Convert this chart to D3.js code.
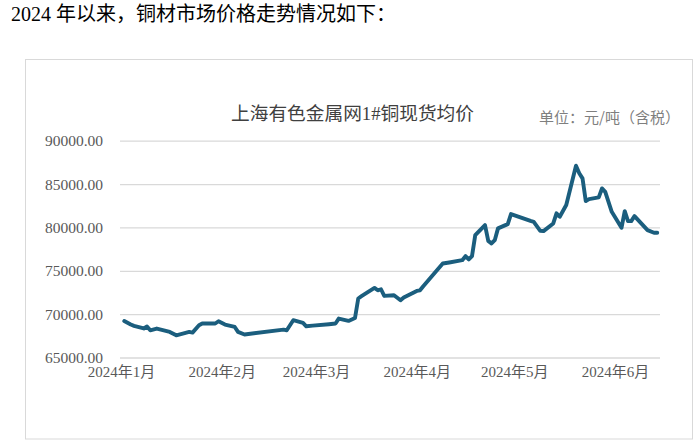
<!DOCTYPE html>
<html><head><meta charset="utf-8">
<script src="https://cdn.jsdelivr.net/npm/d3@7"></script>
<style>
html,body{margin:0;padding:0;background:#fff;}
svg{display:block;}
</style></head>
<body>
<svg id="c" width="700" height="442"></svg>
<script>
const headerText = "2024 年以来，铜材市场价格走势情况如下：";
const chartTitle = "上海有色金属网1#铜现货均价";
const unitText = "单位：元/吨（含税）";
const yTicks = [65000, 70000, 75000, 80000, 85000, 90000];
const xTickDates = ["2024-01-01","2024-02-01","2024-03-01","2024-04-01","2024-05-01","2024-06-01"];
const dates = [
"2024-01-02","2024-01-04","2024-01-05","2024-01-08","2024-01-09","2024-01-10","2024-01-12","2024-01-16","2024-01-18","2024-01-22",
"2024-01-23","2024-01-25","2024-01-26","2024-01-30","2024-01-31","2024-02-02","2024-02-05","2024-02-06","2024-02-08","2024-02-20",
"2024-02-21","2024-02-22","2024-02-23","2024-02-26","2024-02-27","2024-02-29","2024-03-05","2024-03-07","2024-03-08","2024-03-11",
"2024-03-13","2024-03-14","2024-03-15","2024-03-19","2024-03-20","2024-03-21","2024-03-22","2024-03-25","2024-03-27","2024-03-28",
"2024-04-01","2024-04-02","2024-04-03","2024-04-09","2024-04-11","2024-04-15","2024-04-16","2024-04-17","2024-04-18","2024-04-19",
"2024-04-22","2024-04-23","2024-04-24","2024-04-25","2024-04-26","2024-04-29","2024-04-30","2024-05-06","2024-05-07","2024-05-09",
"2024-05-10","2024-05-13","2024-05-14","2024-05-15","2024-05-17","2024-05-20","2024-05-21","2024-05-22","2024-05-23","2024-05-24",
"2024-05-27","2024-05-28","2024-05-29","2024-05-31","2024-06-03","2024-06-04","2024-06-05","2024-06-06","2024-06-07","2024-06-11",
"2024-06-13","2024-06-14"];
const prices = [
69200,68800,68650,68350,68570,68140,68340,67950,67560,67950,
67870,68720,68920,68920,69180,68800,68520,67950,67650,68220,
68140,68720,69300,68990,68600,68680,68840,68920,69490,69220,
69560,71800,72070,73030,72750,72870,72100,72180,71600,71920,
72680,72750,73220,75840,75960,76220,76690,76310,76690,79110,
80270,78450,78150,78530,79890,80380,81540,80760,80650,79610,
79570,80460,81620,81230,82580,87110,86240,85660,83040,83270,
83460,84500,84110,81800,79960,81880,80730,80730,81310,79690,
79380,79380];

const parse = d3.timeParse("%Y-%m-%d");
const data = dates.map((d,i)=>({date:parse(d), value:prices[i]}));

const svg = d3.select("#c");
const gridLeft = 120, gridRight = 660;
const x = d3.scaleTime().domain([parse("2024-01-01"), parse("2024-06-01")]).range([121, 615]);
const y = d3.scaleLinear().domain([65000, 90000]).range([357.5, 140.7]);

svg.append("text").attr("x", 11).attr("y", 21)
  .attr("font-family", "'Liberation Serif','Noto Sans CJK SC',serif")
  .attr("font-size", 20).attr("fill", "#000").text(headerText);

svg.append("rect").attr("x", 25.5).attr("y", 59.5).attr("width", 667).attr("height", 379.5)
  .attr("fill", "#fff").attr("stroke", "#d9d9d9").attr("stroke-width", 1);

svg.append("text").attr("x", 352.5).attr("y", 120).attr("text-anchor", "middle")
  .attr("font-family", "'Liberation Serif','Noto Sans CJK SC',serif")
  .attr("font-size", 18.7).attr("fill", "#404040").text(chartTitle);

svg.append("text").attr("x", 680).attr("y", 123).attr("text-anchor", "end")
  .attr("font-family", "'Noto Sans CJK SC',sans-serif")
  .attr("font-size", 15).attr("fill", "#7f7f7f").text(unitText);

const yAxis = d3.axisLeft(y).tickValues(yTicks).tickSize(-(gridRight - gridLeft)).tickPadding(17)
  .tickFormat(d => d3.format(".2f")(d));
const gy = svg.append("g").attr("transform", `translate(${gridLeft},0)`).call(yAxis);
gy.select(".domain").remove();
gy.selectAll(".tick line").attr("stroke", "#d9d9d9").attr("stroke-width", 1.3);
gy.selectAll(".tick text").attr("font-family", "'Liberation Serif',serif")
  .attr("font-size", 15.5).attr("fill", "#595959");

const xAxis = d3.axisBottom(x).tickValues(xTickDates.map(parse)).tickSize(0).tickPadding(9)
  .tickFormat(d => d.getFullYear() + "年" + (d.getMonth()+1) + "月");
const gx = svg.append("g").attr("transform", `translate(0,${y(65000)})`).call(xAxis);
gx.select(".domain").remove();
gx.selectAll(".tick text").attr("font-family", "'Liberation Serif','Noto Sans CJK SC',serif")
  .attr("font-size", 15).attr("fill", "#595959");

const line = d3.line().x(d => x(d.date)).y(d => y(d.value));
svg.append("path").datum(data).attr("d", line).attr("fill", "none")
  .attr("stroke", "#1b5e7e").attr("stroke-width", 3.9)
  .attr("stroke-linejoin", "round").attr("stroke-linecap", "round");
</script>
</body></html>
